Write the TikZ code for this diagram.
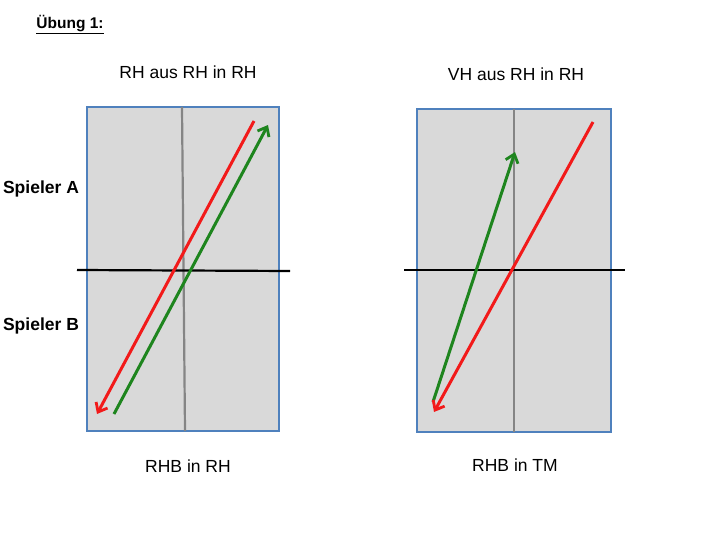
\documentclass[tikz,border=0pt]{standalone}
\usepackage{fontspec}
\setmainfont{Liberation Sans}
\usetikzlibrary{arrows.meta}
\definecolor{boxfill}{HTML}{D9D9D9}
\definecolor{boxline}{HTML}{4F81BD}
\definecolor{midline}{HTML}{858585}
\definecolor{redar}{HTML}{F21A1A}
\definecolor{greenar}{HTML}{1E851E}
\tikzset{
  field/.style={fill=boxfill, draw=boxline, line width=2pt},
  netline/.style={draw=midline, line width=2.2pt},
  divline/.style={draw=black, line width=2.2pt},
  redarrow/.style={draw=redar, line width=3pt, -{Straight Barb[length=8pt,width=13pt,line width=2.8pt]}},
  greenarrow/.style={draw=greenar, line width=3pt, -{Straight Barb[length=8pt,width=13pt,line width=2.8pt]}},
  lbl/.style={font=\fontsize{17.5}{20}\selectfont, inner sep=0pt},
  side/.style={font=\fontsize{17.5}{20}\selectfont\bfseries, inner sep=0pt}
}
\begin{document}
\begin{tikzpicture}[x=1pt,y=-1pt]
\useasboundingbox (0,0) rectangle (720,540);
\node[inner sep=0pt, font=\fontsize{15.5}{18}\selectfont\bfseries] (title) at (70,25) {\underline{Übung 1:}};
% left field
\node[field, minimum width=192pt, minimum height=324pt, inner sep=0pt] (f1) at (183,269) {};
\coordinate (n1t) at (182,107); \coordinate (n1b) at (185,431);
\draw[netline] (n1t) -- (n1b);
\coordinate (d1l) at (77,270); \coordinate (d1r) at (290,271);
\draw[divline] (d1l) -- (d1r);
\coordinate (r1s) at (254,121); \coordinate (r1e) at (97,414);
\draw[redarrow] (r1s) -- (r1e);
\coordinate (g1s) at (114,414); \coordinate (g1e) at (268,125);
\draw[greenarrow] (g1s) -- (g1e);
% right field
\node[field, minimum width=194pt, minimum height=323pt, inner sep=0pt] (f2) at (514,270.5) {};
\coordinate (n2t) at (514,109); \coordinate (n2b) at (514,432);
\draw[netline] (n2t) -- (n2b);
\coordinate (d2l) at (404,270); \coordinate (d2r) at (625,270);
\draw[divline] (d2l) -- (d2r);
\coordinate (g2s) at (433,402); \coordinate (g2e) at (515,152);
\draw[greenarrow] (g2s) -- (g2e);
\coordinate (r2s) at (593,122); \coordinate (r2e) at (434,412);
\draw[redarrow] (r2s) -- (r2e);
% labels
\node[lbl] (t1) at (188,72) {RH aus RH in RH};
\node[lbl] (t2) at (516,74) {VH aus RH in RH};
\node[side] (sa) at (41,189) {Spieler A};
\node[side] (sb) at (41,326) {Spieler B};
\node[lbl] (b1) at (188,466) {RHB in RH};
\node[lbl] (b2) at (515,465) {RHB in TM};
\end{tikzpicture}
\end{document}
